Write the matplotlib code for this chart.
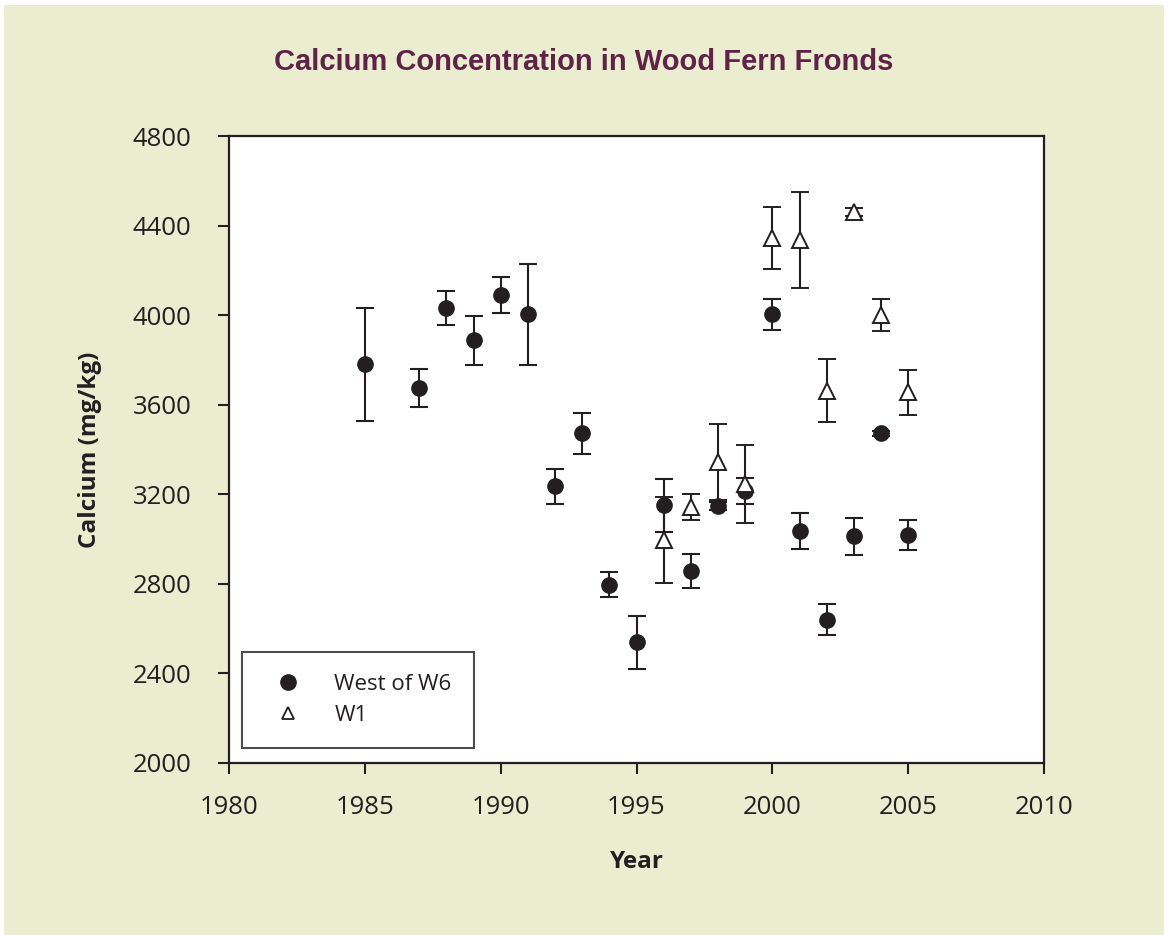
import matplotlib

matplotlib.use("Agg")
import matplotlib.pyplot as plt
from matplotlib.lines import Line2D
from matplotlib.patches import Rectangle

BG_COLOR = "#EBEDD0"
TITLE_COLOR = "#5E2346"
INK = "#231F20"

# West of W6 (filled circles)
w6_years = [1985, 1987, 1988, 1989, 1990, 1991, 1992, 1993, 1994, 1995,
            1996, 1997, 1998, 1999, 2000, 2001, 2002, 2003, 2004, 2005]
w6_calcium = [3780, 3675, 4030, 3887, 4090, 4003, 3235, 3472, 2797, 2540,
              3150, 2857, 3148, 3215, 4004, 3035, 2640, 3013, 3472, 3016]
w6_err = [252, 85, 76, 110, 82, 226, 80, 90, 55, 118,
          120, 77, 18, 58, 70, 80, 68, 83, 12, 67]

# W1 (open triangles)
w1_years = [1996, 1997, 1998, 1999, 2000, 2001, 2002, 2003, 2004, 2005]
w1_calcium = [2996, 3142, 3344, 3245, 4345, 4335, 3662, 4459, 4002, 3655]
w1_err = [190, 58, 170, 175, 140, 215, 140, 18, 71, 100]

plt.rcParams.update({"font.family": "sans-serif",
                     "font.sans-serif": ["Open Sans", "DejaVu Sans"]})

fig = plt.figure(figsize=(11.68, 9.35), dpi=100, facecolor="white")
# beige panel leaving a thin white margin on top/left like the source
fig.patches.append(Rectangle((4 / 1168, 0), 1 - 8 / 1168, 1 - 5 / 935,
                             transform=fig.transFigure, facecolor=BG_COLOR,
                             edgecolor="none", zorder=-10))

ax = fig.add_axes([229 / 1168, 1 - 763 / 935, (1044 - 229) / 1168, (763 - 136) / 935])
ax.set_facecolor("white")

ax.errorbar(w6_years, w6_calcium, yerr=w6_err, fmt="o", color=INK, ecolor=INK,
            markersize=11, elinewidth=1.5, capsize=6.5, capthick=1.5, zorder=3)
ax.errorbar(w1_years, w1_calcium, yerr=w1_err, fmt="^", color=INK, ecolor=INK,
            markerfacecolor="white", markeredgecolor=INK, markeredgewidth=1.4,
            markersize=11, elinewidth=1.5, capsize=6.5, capthick=1.5, zorder=4)

ax.set_xlim(1980, 2010)
ax.set_ylim(2000, 4800)
ax.set_xticks(range(1980, 2011, 5))
ax.set_yticks(range(2000, 4801, 400))
ax.tick_params(direction="out", length=8, width=1.5, color=INK,
               labelsize=18.5, labelcolor=INK)
ax.tick_params(axis="x", pad=15)
ax.tick_params(axis="y", pad=19)
for spine in ax.spines.values():
    spine.set_linewidth(1.6)
    spine.set_color(INK)

ax.set_xlabel("Year", fontsize=17.5, fontweight="bold", color=INK, labelpad=22)
ax.set_ylabel("Calcium (mg/kg)", fontsize=17.5, fontweight="bold", color=INK, labelpad=22)

fig.text(0.4996, 1 - 62 / 935, "Calcium Concentration in Wood Fern Fronds",
         ha="center", va="center", fontsize=21, fontweight="bold",
         color=TITLE_COLOR, family="Liberation Sans")

handles = [
    Line2D([], [], linestyle="none", marker="o", markersize=11, color=INK),
    Line2D([], [], linestyle="none", marker="^", markersize=9,
           markerfacecolor="white", markeredgecolor=INK, markeredgewidth=1.3),
]
leg = ax.legend(handles, ["West of W6", "W1"], loc="lower left",
                bbox_to_anchor=(13 / 815, 15 / 627),
                frameon=True, fancybox=False, fontsize=16, borderpad=1.0,
                handletextpad=1.05, labelspacing=0.45, borderaxespad=0,
                handlelength=2.1)
leg.get_frame().set_edgecolor(INK)
leg.get_frame().set_linewidth(1.5)
for text in leg.get_texts():
    text.set_color(INK)

fig.savefig("out.png", dpi=100, facecolor=fig.get_facecolor())
